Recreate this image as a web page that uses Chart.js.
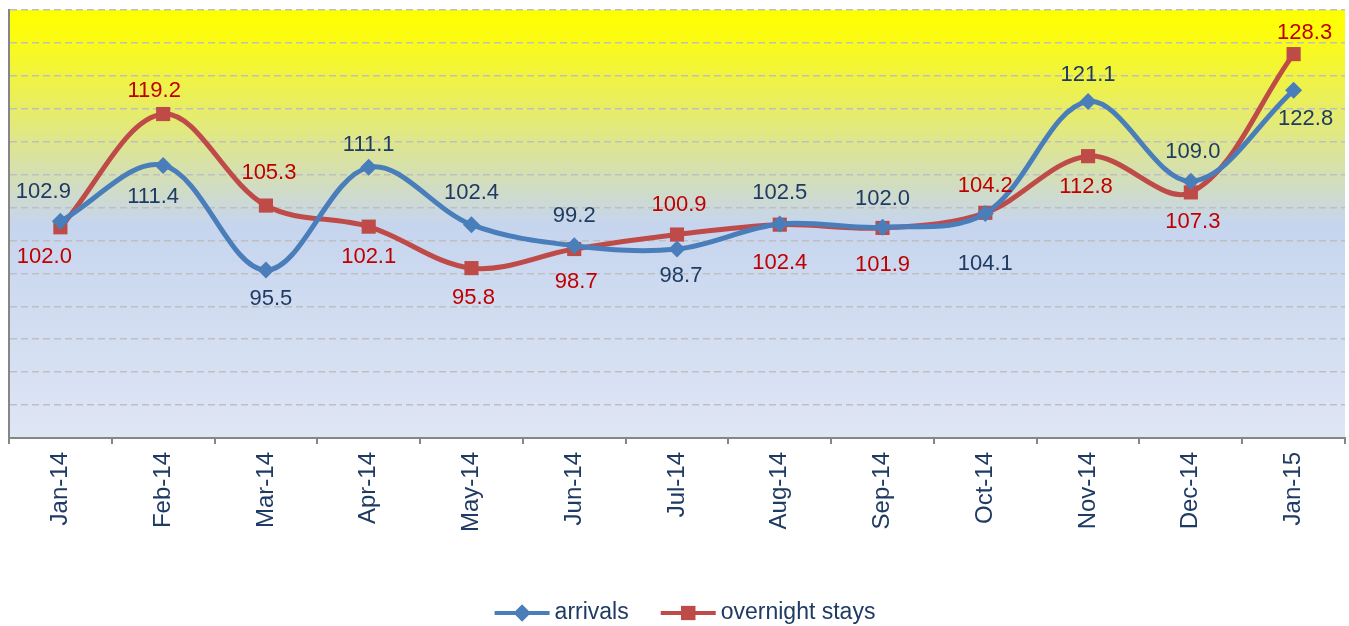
<!DOCTYPE html>
<html>
<head>
<meta charset="utf-8">
<script src="https://cdn.jsdelivr.net/npm/chart.js@4.4.1/dist/chart.umd.min.js"></script>
<style>
  html, body { margin: 0; padding: 0; background: #fff; }
</style>
</head>
<body>
<canvas id="myChart" width="1349" height="626"></canvas>
<script>
const months = ['Jan-14', 'Feb-14', 'Mar-14', 'Apr-14', 'May-14', 'Jun-14', 'Jul-14',
  'Aug-14', 'Sep-14', 'Oct-14', 'Nov-14', 'Dec-14', 'Jan-15'];
const arrivals = [102.9, 111.4, 95.5, 111.1, 102.4, 99.2, 98.7, 102.5, 102.0, 104.1, 121.1, 109.0, 122.8];
const overnightStays = [102.0, 119.2, 105.3, 102.1, 95.8, 98.7, 100.9, 102.4, 101.9, 104.2, 112.8, 107.3, 128.3];

// where each value label sits relative to its point (dx, dy in px)
const arrivalsLabelPos = [[-17, -29], [-10, 32], [5, 29], [0, -22], [0, -32], [0, -30], [4, 27],
  [0, -31], [0, -28], [0, 50], [0, -27], [2, -29], [12, 29]];
const staysLabelPos = [[-16, 30], [-9, -23], [3, -33], [0, 30], [2, 30], [2, 33], [2, -30],
  [0, 38], [0, 37], [0, -27], [-2, 31], [2, 30], [11, -21]];

const FONT = "'Liberation Sans', Arial, sans-serif";
const BLUE = '#4a7ebb';
const RED = '#be4b48';
const NAVY = '#1f3b63';

// gradient fill behind the plot
const plotBackground = {
  id: 'plotBackground',
  beforeDraw(chart) {
    const {ctx, chartArea: {left, top, width, height}} = chart;
    const g = ctx.createLinearGradient(0, top, 0, top + height);
    g.addColorStop(0, '#ffff00');
    g.addColorStop(0.06, '#fcfc10');
    g.addColorStop(0.5, '#c6d5ee');
    g.addColorStop(1, '#dfe6f5');
    ctx.save();
    ctx.fillStyle = g;
    ctx.fillRect(left, top, width, height);
    ctx.restore();
  }
};

const valueLabels = {
  id: 'valueLabels',
  afterDatasetsDraw(chart) {
    const {ctx} = chart;
    const positions = [arrivalsLabelPos, staysLabelPos];
    const colors = [NAVY, '#c00000'];
    ctx.save();
    ctx.font = '22px ' + FONT;
    ctx.textAlign = 'center';
    ctx.textBaseline = 'middle';
    chart.data.datasets.forEach((ds, di) => {
      ctx.fillStyle = colors[di];
      chart.getDatasetMeta(di).data.forEach((pt, i) => {
        const [dx, dy] = positions[di][i];
        ctx.fillText(ds.data[i].toFixed(1), pt.x + dx, pt.y + dy);
      });
    });
    ctx.restore();
  }
};

// excel-style legend: line with marker, then text
const lineLegend = {
  id: 'lineLegend',
  afterDraw(chart) {
    const {ctx} = chart;
    const y = 613;
    const lineLen = 55, gapText = 5, gapItem = 32;
    ctx.save();
    ctx.font = '23px ' + FONT;
    ctx.textBaseline = 'middle';
    const items = chart.data.datasets.map(ds => ({ds, w: ctx.measureText(ds.label).width}));
    const total = items.reduce((s, it) => s + lineLen + gapText + it.w, 0) + gapItem * (items.length - 1);
    let x = 685 - total / 2;
    items.forEach(({ds, w}) => {
      ctx.strokeStyle = ds.borderColor;
      ctx.lineWidth = 4;
      ctx.beginPath();
      ctx.moveTo(x, y);
      ctx.lineTo(x + lineLen, y);
      ctx.stroke();
      ctx.fillStyle = ds.borderColor;
      Chart.helpers.drawPoint(ctx, {
        pointStyle: ds.pointStyle, radius: ds.pointRadius, rotation: 0, borderWidth: 0
      }, x + lineLen / 2, y);
      ctx.fill();
      ctx.fillStyle = NAVY;
      ctx.fillText(ds.label, x + lineLen + gapText, y);
      x += lineLen + gapText + w + gapItem;
    });
    ctx.restore();
  }
};

const data = {
  labels: months,
  datasets: [{
    label: 'arrivals',
    data: arrivals,
    borderColor: BLUE,
    backgroundColor: BLUE,
    borderWidth: 5,
    pointStyle: 'rectRot',
    pointRadius: 8.5,
    pointBorderWidth: 0,
    tension: 0.35
  }, {
    label: 'overnight stays',
    data: overnightStays,
    borderColor: RED,
    backgroundColor: RED,
    borderWidth: 5,
    pointStyle: 'rect',
    pointRadius: 10,
    pointBorderWidth: 0,
    tension: 0.35
  }]
};

const config = {
  type: 'line',
  data,
  options: {
    responsive: false,
    animation: false,
    layout: { autoPadding: false, padding: { top: 10, right: 4, left: 0, bottom: 0 } },
    plugins: {
      legend: { display: false },
      tooltip: { enabled: false }
    },
    scales: {
      x: {
        offset: true,
        afterFit(scale) {
          scale.height = 188;
          scale.paddingLeft = 0;
          scale.paddingRight = 0;
        },
        grid: {
          offset: true,
          drawOnChartArea: false,
          drawTicks: true,
          tickLength: 6,
          color: '#868686',
          lineWidth: 2
        },
        border: { color: '#868686', width: 2 },
        ticks: {
          autoSkip: false,
          minRotation: 90,
          maxRotation: 90,
          padding: 8,
          color: NAVY,
          font: { size: 24, family: FONT }
        }
      },
      y: {
        min: 70,
        max: 135,
        afterFit(scale) { scale.width = 9; },
        ticks: { display: false, stepSize: 5 },
        grid: {
          color: '#bfbfbf',
          lineWidth: 1.5,
          drawTicks: false
        },
        border: { color: '#868686', width: 2, dash: [7, 4] }
      }
    }
  },
  plugins: [plotBackground, valueLabels, lineLegend]
};

const myChart = new Chart(document.getElementById('myChart'), config);
</script>
</body>
</html>
